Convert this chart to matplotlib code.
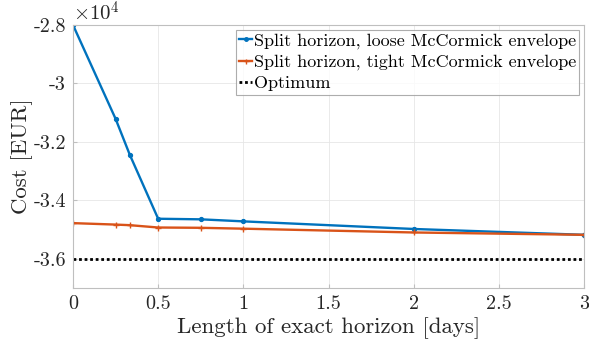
import matplotlib
matplotlib.use("Agg")
import matplotlib.pyplot as plt
from matplotlib.ticker import FuncFormatter

plt.rcParams['font.family'] = 'cmr10'
plt.rcParams['mathtext.fontset'] = 'cm'
plt.rcParams['axes.unicode_minus'] = False
plt.rcParams['axes.formatter.use_mathtext'] = True

# exact horizon length in days
horizon = [0, 0.25, 1 / 3, 0.5, 0.75, 1, 2, 3]
# cost in EUR
cost_loose = [-28000, -31210, -32440, -34630, -34650, -34720, -34980, -35180]
cost_tight = [-34780, -34830, -34850, -34930, -34940, -34970, -35100, -35180]
cost_opt = -36010

blue = (0, 0.447, 0.741)
orange = (0.85, 0.325, 0.098)

fig = plt.figure(figsize=(5.89, 3.47), dpi=100)
ax = fig.add_axes([73 / 589, 1 - 288 / 347, (584 - 73) / 589, (288 - 25) / 347])

ax.plot(horizon, cost_loose, color=blue, lw=1.7, marker='o', ms=2.8,
        label='Split horizon, loose McCormick envelope')
ax.plot(horizon, cost_tight, color=orange, lw=1.7, marker='+', ms=4, mew=1,
        label='Split horizon, tight McCormick envelope')
ax.plot([0, 3], [cost_opt, cost_opt], color='black', lw=2, ls=(0, (1, 1)),
        label='Optimum')

ax.set_xlim(0, 3)
ax.set_ylim(-37000, -28000)
ax.set_xticks([0, 0.5, 1, 1.5, 2, 2.5, 3])
ax.set_yticks([-36000, -34000, -32000, -30000, -28000])
ax.xaxis.set_major_formatter(FuncFormatter(lambda v, p: f"{v:g}"))
ax.yaxis.set_major_formatter(FuncFormatter(lambda v, p: f"{v / 1e4:g}"))
ax.text(0, 1.0, r'$\times10^4$', transform=ax.transAxes, fontsize=15,
        va='bottom', ha='left', color='0.15')

ax.grid(True, color='0.9', lw=0.6)
for s in ax.spines.values():
    s.set_color('0.75')
ax.tick_params(colors='0.75', labelcolor='0.15', labelsize=14.5, direction='in',
               length=3, pad=5)

ax.set_xlabel('Length of exact horizon [days]', fontsize=16.5, color='0.15', labelpad=3)
ax.set_ylabel('Cost [EUR]', fontsize=16.5, color='0.15', labelpad=0)

leg = ax.legend(loc='upper right', fontsize=13, frameon=True, fancybox=False,
                handlelength=0.7, handletextpad=0.1, borderpad=0.2,
                labelspacing=0.28, borderaxespad=0.25, markerscale=0.9)
leg.get_frame().set_edgecolor('0.6')
leg.get_frame().set_linewidth(0.8)

fig.savefig('out.png', dpi=100)
